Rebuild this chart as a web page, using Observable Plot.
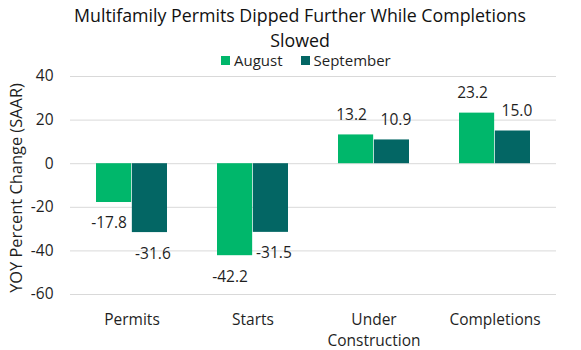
<!DOCTYPE html>
<html>
<head>
<meta charset="utf-8">
<script src="https://cdn.jsdelivr.net/npm/d3@7"></script>
<script src="https://cdn.jsdelivr.net/npm/@observablehq/plot@0.6"></script>
<style>
  html, body { margin: 0; padding: 0; background: #fff; }
  #wrap { position: relative; width: 581px; height: 350px; overflow: hidden; font-family: "Open Sans", sans-serif; color: #1f1f1f; }
  #title { position: absolute; left: 50px; top: 2.6px; width: 500px; text-align: center; font-size: 17.8px; line-height: 25px; color: #111; }
  #legend { position: absolute; left: 221px; top: 50px; font-size: 15px; line-height: 20px; color: #1f1f1f; display: flex; align-items: center; white-space: nowrap; }
  #legend span.item { display: flex; align-items: center; margin-right: 18px; }
  #legend span.sw { display: inline-block; width: 9px; height: 9px; margin-right: 4px; }
  #ylabel { position: absolute; left: 15px; top: 188px; transform: translate(-50%, -50%) rotate(-90deg); white-space: nowrap; font-size: 16.4px; color: #1f1f1f; }
  #chart { position: absolute; left: 0; top: 0; }
</style>
</head>
<body>
<div id="wrap">
  <div id="chart"></div>
  <div id="title">Multifamily Permits Dipped Further While Completions<br>Slowed</div>
  <div id="legend"></div>
  <div id="ylabel">YOY Percent Change (SAAR)</div>
</div>
<script>
const categories = ["Permits", "Starts", "Under Construction", "Completions"];
const series = ["August", "September"];
const august = [-17.8, -42.2, 13.2, 23.2];
const september = [-31.6, -31.5, 10.9, 15.0];
const yTicks = [-60, -40, -20, 0, 20, 40];
const colors = ["#00b76b", "#036664"];

const augData = categories.map((c, i) => ({cat: c, series: "August", value: august[i]}));
const sepData = categories.map((c, i) => ({cat: c, series: "September", value: september[i]}));

const W = 581, H = 350, mL = 70, mR = 25, mT = 76, mB = 56;
const padInner = 0.41, padOuter = 0.205;
const step = (W - mL - mR) / (categories.length - padInner + 2 * padOuter);
const bw = step * (1 - padInner);
const half = bw / 2;
const FS = 15.5;
const TXT = "#1f1f1f";

const legend = document.getElementById("legend");
series.forEach((s, i) => {
  const item = document.createElement("span");
  item.className = "item";
  const sw = document.createElement("span");
  sw.className = "sw";
  sw.style.background = colors[i];
  item.appendChild(sw);
  item.appendChild(document.createTextNode(s));
  legend.appendChild(item);
});

const fmt = d => d.toFixed(1);

const chart = Plot.plot({
  width: W, height: H,
  marginLeft: mL, marginRight: mR, marginTop: mT, marginBottom: mB,
  style: {fontFamily: "Open Sans, sans-serif", fontSize: FS + "px", color: TXT, background: "transparent"},
  x: {domain: categories, paddingInner: padInner, paddingOuter: padOuter, label: null},
  y: {domain: [-60, 40], label: null},
  color: {domain: series, range: colors},
  marks: [
    Plot.ruleY(yTicks, {stroke: "#d9d9d9", strokeWidth: 1}),
    Plot.barY(augData, {x: "cat", y: "value", fill: "series", insetRight: half, insetLeft: 0}),
    Plot.barY(sepData, {x: "cat", y: "value", fill: "series", insetLeft: half, insetRight: 0}),
    Plot.text(augData.filter(d => d.value >= 0), {x: "cat", y: "value", text: d => fmt(d.value), dx: -half / 2 - 4.5, dy: -20, fill: TXT, fontSize: FS}),
    Plot.text(augData.filter(d => d.value < 0), {x: "cat", y: "value", text: d => fmt(d.value), dx: -half / 2 - 5, dy: 21, fill: TXT, fontSize: FS}),
    Plot.text(sepData.filter(d => d.value >= 0), {x: "cat", y: "value", text: d => fmt(d.value), dx: half / 2 + 4, dy: -20, fill: TXT, fontSize: FS}),
    Plot.text(sepData.filter(d => d.value < 0), {x: "cat", y: "value", text: d => fmt(d.value), dx: half / 2 + 3, dy: 21, fill: TXT, fontSize: FS}),
    Plot.axisY({ticks: yTicks, tickSize: 0, tickPadding: 17, fontSize: FS, fill: TXT, label: null, tickFormat: d => String(d)}),
    Plot.axisX({tickSize: 0, tickPadding: 16, fontSize: FS, fill: TXT, lineHeight: 1.35, label: null, tickFormat: d => d === "Under Construction" ? "Under\nConstruction" : d})
  ]
});
document.getElementById("chart").appendChild(chart);
</script>
</body>
</html>
